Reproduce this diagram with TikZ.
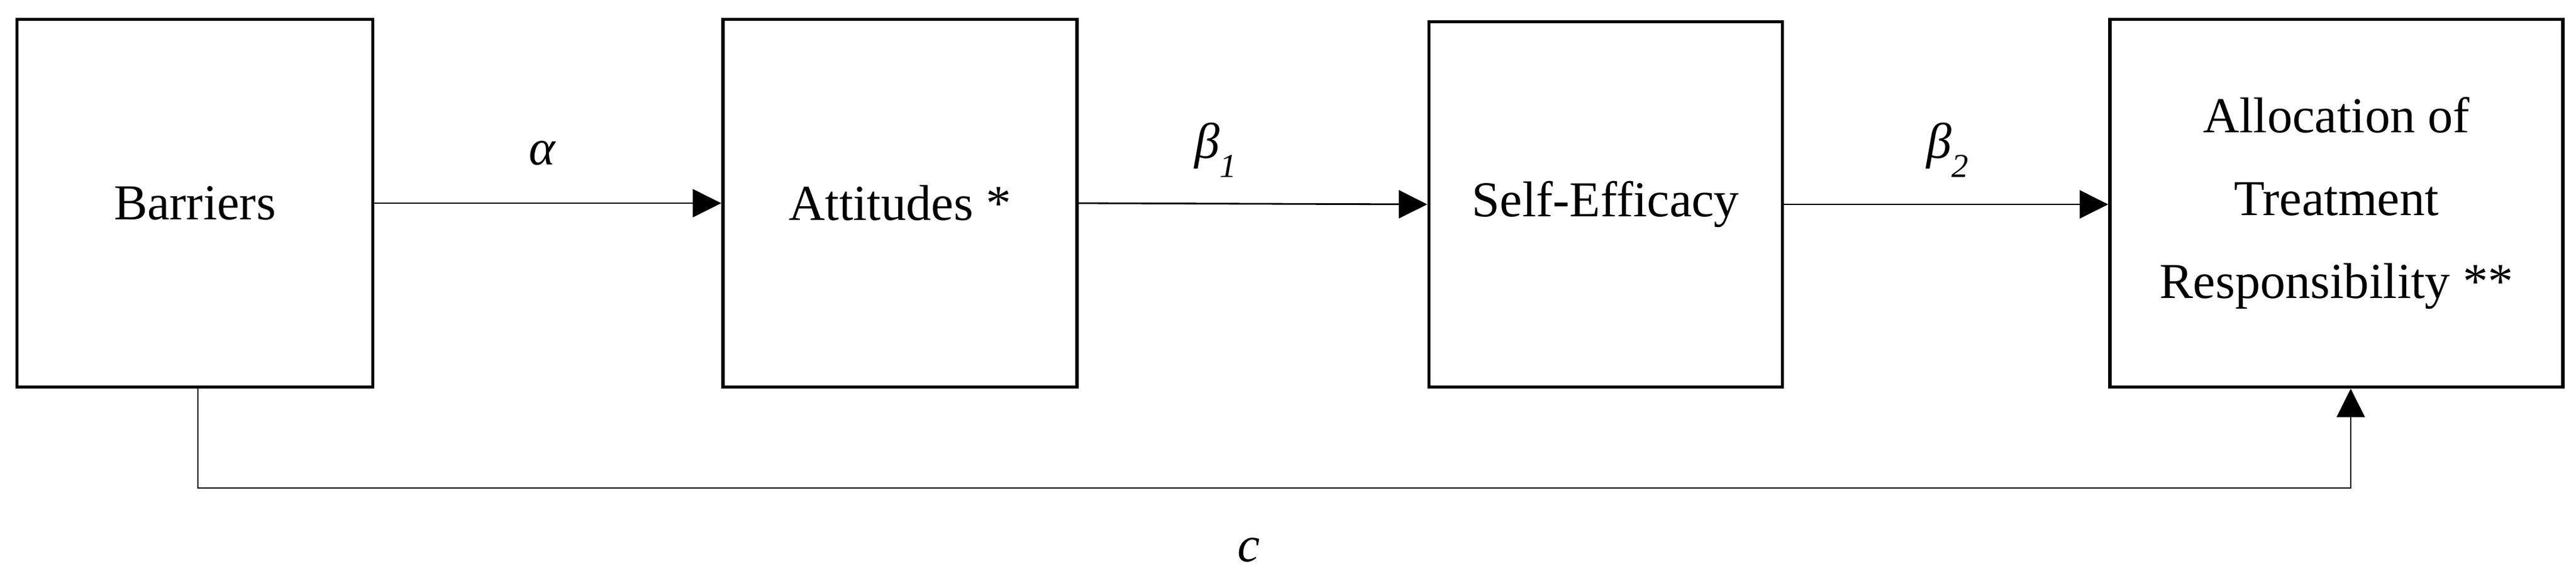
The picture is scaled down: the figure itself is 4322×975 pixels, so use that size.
\documentclass[tikz,border=0pt]{standalone}
\usepackage{fontspec}
\setmainfont{Liberation Serif}
\usepackage{tikz}
\usetikzlibrary{arrows.meta}

\tikzset{
  box/.style={draw, line width=0.8pt, rectangle, inner sep=0pt, align=center, font=\fontsize{12}{19.8}\selectfont},
  arr/.style={line width=0.4pt, -{Triangle[length=6.8pt,width=6.7pt]}},
  lbl/.style={anchor=base, inner sep=0pt, font=\fontsize{12}{14}\selectfont}
}
\newcommand{\lowsub}[1]{\raisebox{-4.5pt}{\fontsize{8}{8}\selectfont\textit{#1}}}

\begin{document}
\begin{tikzpicture}[x=0.05mm, y=-0.05mm]
    \useasboundingbox (0,0) rectangle (4322,975);
    \node[box, minimum width=29.85mm, minimum height=30.85mm] (B) at (327,341) {Barriers};
    \node[box, minimum width=29.7mm, minimum height=30.85mm] (A) at (1510,341) {Attitudes *};
    \node[box, minimum width=29.65mm, minimum height=30.65mm] (S) at (2694,343) {Self-Efficacy};
    \node[box, minimum width=38mm, minimum height=30.85mm] (T) at (3920,341) {Allocation of\\Treatment\\Responsibility **};
    \draw[arr] (B.east) -- (A.west);
    \draw[arr] (A.east) -- (S.west);
    \draw[arr] (S.east) -- (S.east -| T.west);
    \coordinate (c1) at (332,819);
    \coordinate (c2) at (3944,819);
    \draw[arr] (B.south -| c1) -- (c1) -- (c2) -- (c2 |- T.south);
    \node[lbl] (al) at (910,277) {\textit{α}};
    \node[lbl] (b1) at (2040,266) {\textit{β}\lowsub{1}};
    \node[lbl] (b2) at (3268,266) {\textit{β}\lowsub{2}};
    \node[lbl] (c) at (2095,943) {\textit{c}};
\end{tikzpicture}
\end{document}
